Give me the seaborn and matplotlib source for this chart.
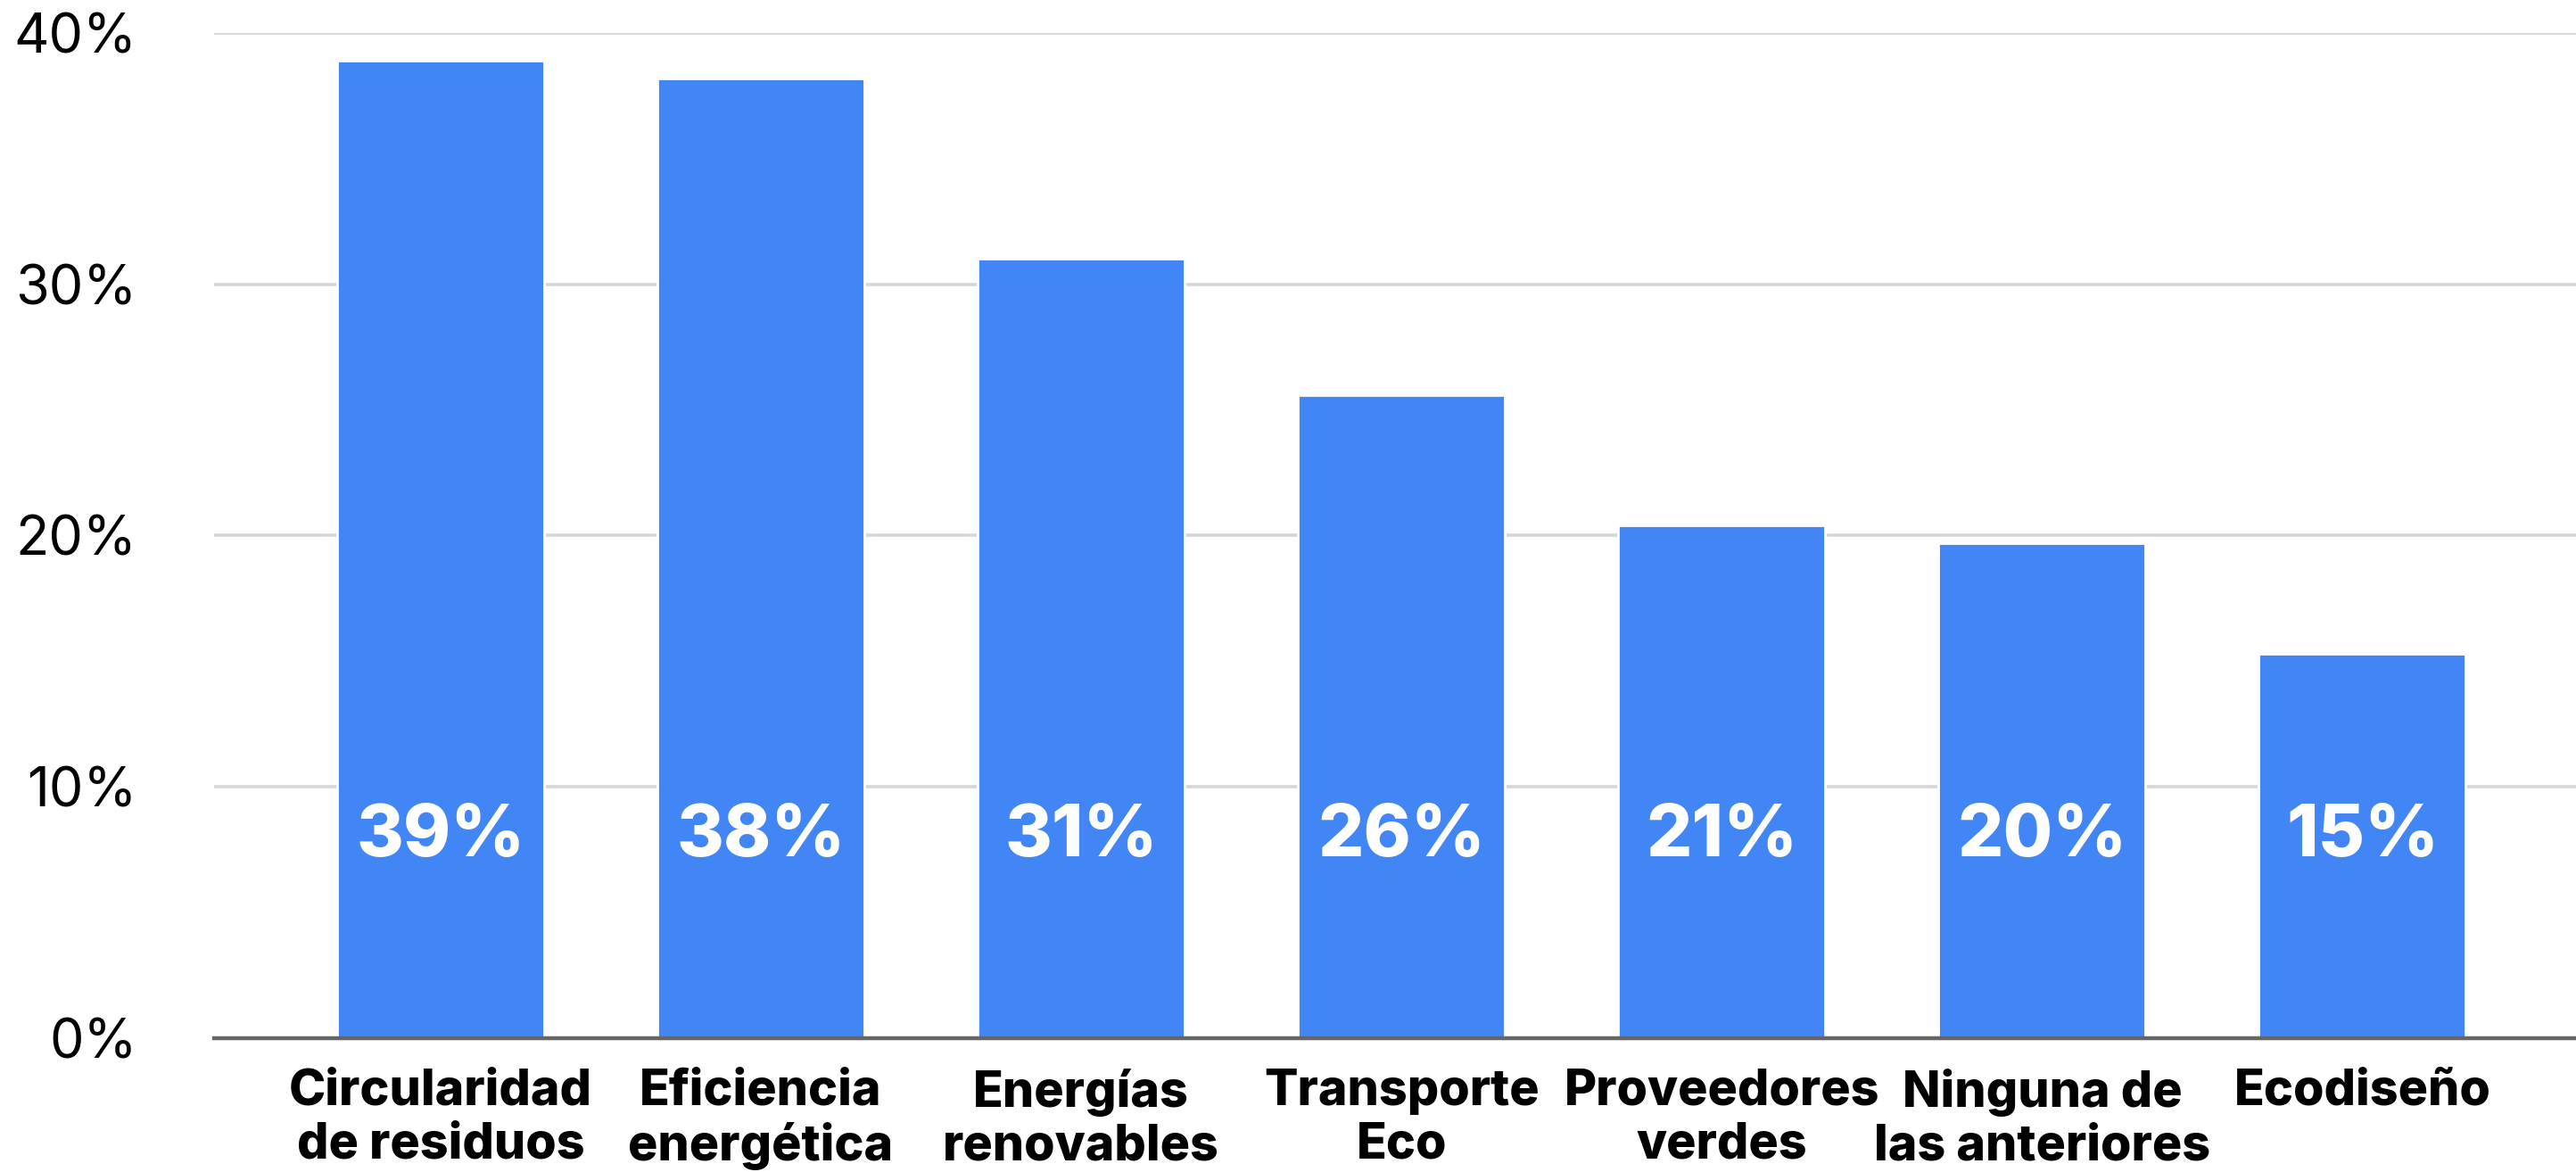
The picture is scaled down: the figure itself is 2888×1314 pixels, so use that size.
import matplotlib
matplotlib.use("Agg")
import matplotlib.pyplot as plt
import seaborn as sns
import pandas as pd
from matplotlib.ticker import FuncFormatter

categories = ["Circularidad\nde residuos", "Eficiencia\nenergética", "Energías\nrenovables",
              "Transporte\nEco", "Proveedores\nverdes", "Ninguna de\nlas anteriores", "Ecodiseño"]
values = [38.9, 38.2, 31.0, 25.6, 20.4, 19.7, 15.3]
value_labels = ["39%", "38%", "31%", "26%", "21%", "20%", "15%"]
yticks = [0, 10, 20, 30, 40]

sns.set_theme(style="white")
plt.rcParams['font.family'] = ['Inter', 'DejaVu Sans']

df = pd.DataFrame({"cat": categories, "val": values})

fig = plt.figure(figsize=(14.44, 6.57), dpi=200)
ax = fig.add_axes([0.083, 0.114, 0.917, 0.858])

sns.barplot(data=df, x="cat", y="val", color="#4285F4", saturation=1, width=0.646, ax=ax, zorder=3)

ax.set_ylim(0, 40)
ax.set_xlim(-0.708, 6.667)
ax.set_yticks(yticks)
ax.yaxis.set_major_formatter(FuncFormatter(lambda v, p: f"{int(v)}%"))
ax.grid(axis="y", color="#d6d6d6", linewidth=1.3, zorder=0)
ax.grid(axis="x", visible=False)
for s in ["top", "right", "left"]:
    ax.spines[s].set_visible(False)
ax.spines["bottom"].set_color("#666666")
ax.spines["bottom"].set_linewidth(1.6)
ax.spines["bottom"].set_zorder(4)
ax.set_xlabel("")
ax.set_ylabel("")
ax.tick_params(axis="y", length=0, pad=31, labelsize=22, labelcolor="#000000")
ax.tick_params(axis="x", length=0, pad=12, labelsize=20, labelcolor="#000000")
for lbl in ax.get_xticklabels():
    lbl.set_fontweight("heavy")
    lbl.set_linespacing(1.2)
for lbl in ax.get_yticklabels():
    lbl.set_fontweight("normal")

for i, t in enumerate(value_labels):
    ax.text(i, 8.0, t, ha="center", va="center", color="white", fontsize=29, fontweight="heavy", zorder=5)

fig.savefig("out.png", dpi=200, facecolor="white")
